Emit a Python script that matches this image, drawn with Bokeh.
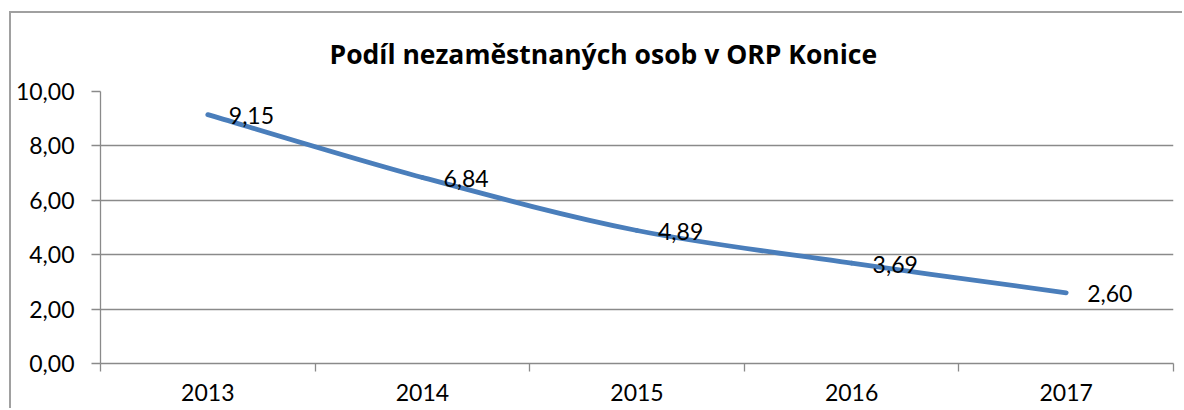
from bokeh.plotting import figure
from bokeh.models import ColumnDataSource, Range1d, FixedTicker, LabelSet
from bokeh.core.properties import value
from bokeh.embed import file_html
from bokeh.resources import INLINE

# ---- data ----
title_text = "Podíl nezaměstnaných osob v ORP Konice"
years = ["2013", "2014", "2015", "2016", "2017"]
values = [9.15, 6.84, 4.89, 3.69, 2.60]
value_labels = ["9,15", "6,84", "4,89", "3,69", "2,60"]
y_ticks = [0, 2, 4, 6, 8, 10]
y_tick_labels = ["0,00", "2,00", "4,00", "6,00", "8,00", "10,00"]

FONT = "Lato"
TITLE_FONT = "Open Sans"
GRID = "#8a8a8a"
LINE = "#4a7ebb"

n = len(years)
xs = list(range(1, n + 1))

p = figure(width=1173, height=397, output_backend="svg", toolbar_location=None,
           x_range=Range1d(0.5, n + 0.5), y_range=Range1d(0, 10),
           min_border_left=89, min_border_right=11, min_border_top=77,
           min_border_bottom=47)
# outer chart-area border (left/top edges visible, the rest runs off the page)
p.styles = {"margin-left": "9px", "margin-top": "11px",
            "border-left": "2px solid #a0a0a0", "border-top": "2px solid #a0a0a0"}
p.outline_line_color = None
p.background_fill_color = "white"
p.border_fill_color = "white"

# title
p.title.text = title_text
p.title.align = "left"
p.title.offset = 229
p.title.standoff = 40
p.title.text_font = TITLE_FONT
p.title.text_font_style = "bold"
p.title.text_font_size = "26.5px"
p.title.text_color = "black"

# smooth curve (Excel style) as cubic bezier segments built from the data points
pts = list(zip(xs, values))
x0, y0, x1, y1, cx0, cy0, cx1, cy1 = ([] for _ in range(8))
for i in range(n - 1):
    P0 = pts[i - 1] if i > 0 else pts[i]
    P1 = pts[i]
    P2 = pts[i + 1]
    P3 = pts[i + 2] if i + 2 < n else pts[i + 1]
    x0.append(P1[0]); y0.append(P1[1])
    x1.append(P2[0]); y1.append(P2[1])
    cx0.append(P1[0] + (P2[0] - P0[0]) / 6); cy0.append(P1[1] + (P2[1] - P0[1]) / 6)
    cx1.append(P2[0] - (P3[0] - P1[0]) / 6); cy1.append(P2[1] - (P3[1] - P1[1]) / 6)
bsrc = ColumnDataSource(dict(x0=x0, y0=y0, x1=x1, y1=y1, cx0=cx0, cy0=cy0, cx1=cx1, cy1=cy1))
p.bezier(x0="x0", y0="y0", x1="x1", y1="y1", cx0="cx0", cy0="cy0", cx1="cx1", cy1="cy1",
         source=bsrc, line_color=LINE, line_width=4.8, line_cap="round")

src = ColumnDataSource(dict(x=xs, y=values, lab=value_labels))
p.add_layout(LabelSet(x="x", y="y", text="lab", source=src, x_offset=21, y_offset=-1,
                      text_align="left", text_baseline="middle",
                      text_font=value(FONT), text_font_size=value("23px"),
                      text_color="black"))

# y axis
p.yaxis.ticker = FixedTicker(ticks=y_ticks, minor_ticks=[])
p.yaxis.major_label_overrides = {t: l for t, l in zip(y_ticks, y_tick_labels)}
p.yaxis.axis_line_color = GRID
p.yaxis.axis_line_width = 1.3
p.yaxis.major_tick_line_color = GRID
p.yaxis.major_tick_line_width = 1.3
p.yaxis.major_tick_in = 0
p.yaxis.major_tick_out = 9
p.yaxis.minor_tick_line_color = None
p.yaxis.major_label_standoff = 17
p.yaxis.major_label_text_font = FONT
p.yaxis.major_label_text_font_size = "23px"
p.yaxis.major_label_text_color = "black"

# x axis: labels at category centres, ticks at category boundaries
p.xaxis.ticker = FixedTicker(ticks=xs, minor_ticks=[i + 0.5 for i in range(n + 1)])
p.xaxis.major_label_overrides = {x: y for x, y in zip(xs, years)}
p.xaxis.axis_line_color = GRID
p.xaxis.axis_line_width = 1.3
p.xaxis.major_tick_line_color = None
p.xaxis.major_tick_in = 0
p.xaxis.major_tick_out = 0
p.xaxis.minor_tick_line_color = GRID
p.xaxis.minor_tick_line_width = 1.3
p.xaxis.minor_tick_in = 0
p.xaxis.minor_tick_out = 8
p.xaxis.major_label_standoff = 12
p.xaxis.major_label_text_font = FONT
p.xaxis.major_label_text_font_size = "23px"
p.xaxis.major_label_text_color = "black"

p.xgrid.grid_line_color = None
p.ygrid.ticker = FixedTicker(ticks=y_ticks, minor_ticks=[])
p.ygrid.grid_line_color = GRID
p.ygrid.grid_line_width = 1.3

open("out.html", "w").write(file_html(p, INLINE))
